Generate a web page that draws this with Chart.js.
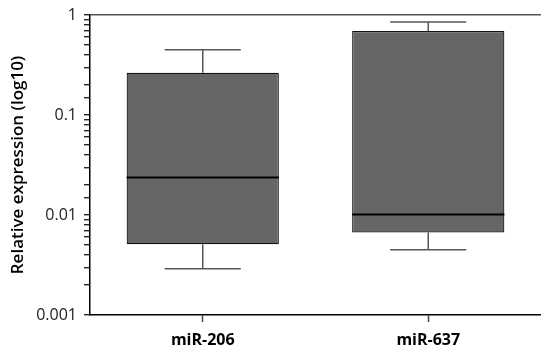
<!DOCTYPE html>
<html>
<head>
<meta charset="utf-8">
<script src="https://cdn.jsdelivr.net/npm/chart.js@4"></script>
<style>
  html, body { margin: 0; padding: 0; background: #fff; }
  #wrap { width: 541px; height: 354px; }
</style>
</head>
<body>
<div id="wrap"><canvas id="main-chart"></canvas></div>
<script>
const categories = ['miR-206', 'miR-637'];
const whiskerLow = [0.0029, 0.0045];
const q1 = [0.0051, 0.0067];
const median = [0.0237, 0.0101];
const q3 = [0.264, 0.69];
const whiskerHigh = [0.448, 0.85];
const majorTicks = [1, 0.1, 0.01, 0.001];

const FONT = "'Open Sans', 'Noto Sans', sans-serif";

const isMajor = v => majorTicks.some(m => Math.abs(v - m) / m < 1e-6);

// whiskers and medians, placed with the chart's own scales
const boxExtras = {
  id: 'boxExtras',
  beforeDatasetsDraw(chart) {
    const { ctx, scales: { x, y } } = chart;
    const bar = chart.getDatasetMeta(0).data;
    ctx.save();
    ctx.strokeStyle = '#555';
    ctx.lineWidth = 1.5;
    categories.forEach((c, i) => {
      const cx = x.getPixelForValue(i);
      const half = bar[i].width / 4;
      const lo = y.getPixelForValue(whiskerLow[i]);
      const hi = y.getPixelForValue(whiskerHigh[i]);
      ctx.beginPath();
      ctx.moveTo(cx, hi); ctx.lineTo(cx, y.getPixelForValue(q3[i]));
      ctx.moveTo(cx, lo); ctx.lineTo(cx, y.getPixelForValue(q1[i]));
      ctx.moveTo(cx - half, hi); ctx.lineTo(cx + half, hi);
      ctx.moveTo(cx - half, lo); ctx.lineTo(cx + half, lo);
      ctx.stroke();
    });
    ctx.restore();
  },
  afterDatasetsDraw(chart) {
    const { ctx, scales: { x, y } } = chart;
    const bar = chart.getDatasetMeta(0).data;
    ctx.save();
    ctx.strokeStyle = '#000';
    ctx.lineWidth = 2;
    categories.forEach((c, i) => {
      const cx = x.getPixelForValue(i);
      const half = bar[i].width / 2;
      const m = y.getPixelForValue(median[i]);
      ctx.beginPath();
      ctx.moveTo(cx - half, m); ctx.lineTo(cx + half, m);
      ctx.stroke();
    });
    ctx.restore();
  }
};

document.addEventListener('DOMContentLoaded', () => {
  const canvas1 = document.getElementById('main-chart');
  canvas1.setAttribute('width', '541');
  canvas1.setAttribute('height', '354');

  new Chart(canvas1, {
    type: 'bar',
    data: {
      labels: categories,
      datasets: [{
        data: categories.map((c, i) => [q1[i], q3[i]]),
        backgroundColor: '#666666',
        borderColor: '#111',
        borderWidth: 1.2,
        borderSkipped: false,
        barPercentage: 0.675,
        categoryPercentage: 1
      }]
    },
    options: {
      responsive: false,
      animation: false,
      layout: { padding: { top: 6, right: 0, left: 8, bottom: 0 } },
      plugins: {
        legend: { display: false },
        tooltip: { enabled: false }
      },
      scales: {
        x: {
          grid: {
            display: true,
            offset: false,
            drawOnChartArea: false,
            tickLength: 7,
            tickColor: '#444',
            tickWidth: 1.5
          },
          border: { display: true, color: '#000', width: 1.5 },
          ticks: {
            color: '#000',
            padding: 9,
            font: { family: FONT, size: 16, weight: 'bold' }
          },
          afterFit(scale) { scale.height = 39; }
        },
        y: {
          type: 'logarithmic',
          min: 0.001,
          max: 1,
          grid: {
            display: true,
            drawOnChartArea: true,
            drawTicks: true,
            color: ctx => (ctx.tick && Math.abs(ctx.tick.value - 1) < 1e-9 ? '#555' : 'rgba(0,0,0,0)'),
            lineWidth: 1.5,
            tickLength: 6,
            tickColor: '#000',
            tickWidth: 1.2
          },
          border: { display: true, color: '#000', width: 1.5 },
          ticks: {
            color: '#222',
            padding: 7,
            autoSkip: false,
            font: { family: FONT, size: 16, lineHeight: 1 },
            callback: v => (isMajor(v) ? String(Number(v.toPrecision(3))) : '')
          },
          title: {
            display: true,
            text: 'Relative expression (log10)',
            color: '#000',
            padding: { top: 0, bottom: 2 },
            font: { family: FONT, size: 17, weight: '600' }
          },
          afterFit(scale) { scale.width = 82; }
        }
      }
    },
    plugins: [boxExtras]
  });
});
</script>
</body>
</html>
